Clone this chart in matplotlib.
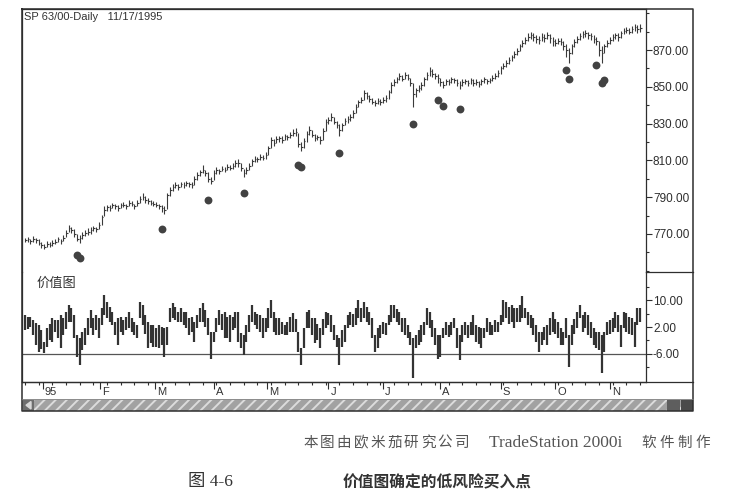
import matplotlib
matplotlib.use("Agg")
import matplotlib.pyplot as plt
from matplotlib.patches import Rectangle, Polygon
from matplotlib.ticker import MultipleLocator, FormatStrFormatter
import matplotlib.transforms as mtransforms


# SP daily bars, 12/1994 .. 11/17/1995
price_high = [
    768.0, 768.5, 767.5, 769.0, 768.0, 767.0, 765.5, 764.5, 766.0, 765.5,
    766.5, 767.5, 768.5, 767.5, 769.5, 772.0, 775.0, 774.0, 772.5, 770.0,
    769.5, 771.0, 772.0, 773.0, 773.5, 774.5, 774.0, 776.5, 780.5, 785.0,
    786.0, 785.5, 787.0, 786.5, 786.0, 787.0, 787.5, 786.5, 788.5, 788.0,
    786.5, 788.5, 790.5, 792.0, 790.5, 789.5, 788.5, 788.0, 787.5, 786.5,
    785.5, 785.0, 792.0, 795.5, 797.0, 798.0, 797.0, 798.5, 798.0, 799.0,
    798.5, 798.0, 801.5, 803.5, 805.0, 807.5, 805.0, 803.5, 801.0, 804.5,
    806.5, 805.5, 807.0, 806.5, 808.0, 807.5, 808.5, 810.0, 810.5, 808.5,
    805.5, 806.5, 808.5, 811.0, 812.5, 812.0, 813.5, 813.0, 814.5, 818.0,
    822.5, 821.5, 823.0, 823.5, 823.0, 824.5, 824.0, 825.5, 827.0, 827.5,
    825.0, 820.0, 822.0, 826.0, 828.5, 826.5, 824.5, 824.0, 823.0, 827.5,
    832.5, 833.5, 835.5, 833.5, 831.5, 829.5, 830.5, 833.0, 834.0, 835.0,
    837.5, 840.5, 843.0, 844.5, 848.0, 847.0, 845.5, 844.0, 843.0, 844.0,
    843.5, 844.5, 845.5, 848.5, 852.5, 854.0, 855.5, 857.5, 856.5, 858.0,
    857.0, 855.0, 852.0, 849.5, 851.0, 852.5, 855.5, 858.0, 860.5, 859.5,
    857.5, 857.0, 855.0, 853.0, 854.5, 854.0, 855.5, 855.0, 854.0, 853.0,
    854.0, 854.5, 853.5, 855.0, 854.0, 854.0, 853.0, 854.5, 855.5, 854.5,
    855.0, 856.5, 857.5, 859.0, 861.5, 863.0, 864.5, 866.0, 867.5, 869.5,
    871.0, 873.5, 875.5, 877.0, 879.0, 880.0, 879.0, 878.0, 877.5, 879.0,
    878.5, 880.0, 878.5, 877.0, 876.0, 876.5, 876.5, 875.0, 873.0, 871.0,
    873.5, 876.0, 877.5, 879.0, 880.5, 881.0, 880.0, 879.0, 878.0, 877.0,
    875.0, 872.0, 873.5, 875.5, 877.0, 878.5, 879.5, 879.0, 880.5, 882.0,
    882.5, 882.0, 883.0, 884.0, 883.5, 884.0,
]

price_low = [
    765.5, 765.5, 764.5, 765.5, 765.0, 764.0, 762.5, 762.0, 763.0, 763.0,
    763.5, 764.5, 765.5, 764.5, 766.0, 768.5, 771.0, 770.5, 768.5, 766.0,
    765.0, 767.5, 769.0, 769.5, 770.0, 771.5, 771.0, 772.5, 775.0, 779.5,
    782.5, 782.5, 784.0, 783.5, 782.5, 784.0, 784.5, 783.5, 785.0, 785.0,
    783.5, 785.0, 787.0, 788.5, 787.0, 786.5, 785.5, 785.0, 784.5, 783.5,
    782.0, 781.0, 783.5, 790.5, 793.5, 795.0, 794.0, 795.5, 795.0, 796.0,
    795.5, 795.0, 796.5, 799.5, 801.5, 803.0, 801.5, 798.5, 797.0, 799.5,
    802.5, 802.5, 804.0, 803.5, 805.0, 804.5, 805.5, 806.5, 806.5, 804.0,
    801.0, 802.5, 805.0, 807.0, 809.0, 809.0, 810.0, 810.0, 811.0, 813.0,
    816.5, 818.0, 819.5, 820.0, 819.5, 821.0, 821.0, 822.0, 823.0, 823.5,
    817.5, 815.0, 816.5, 820.0, 824.0, 822.5, 820.5, 821.0, 819.0, 821.0,
    826.0, 830.0, 831.5, 829.5, 827.5, 823.5, 826.0, 829.0, 830.5, 831.5,
    833.0, 836.0, 839.0, 841.0, 843.0, 843.5, 842.0, 840.5, 839.5, 840.5,
    840.0, 841.0, 842.0, 843.5, 846.5, 850.5, 852.0, 853.5, 853.0, 854.5,
    853.5, 850.5, 839.0, 844.5, 847.0, 848.5, 850.5, 853.5, 856.0, 855.5,
    854.0, 852.0, 850.5, 849.5, 851.0, 851.0, 852.0, 852.0, 850.5, 849.0,
    850.5, 851.5, 850.5, 851.5, 850.5, 851.0, 850.0, 851.0, 852.0, 851.5,
    852.0, 853.0, 854.0, 855.5, 857.0, 859.5, 861.0, 862.5, 864.0, 865.5,
    867.5, 869.5, 871.5, 873.5, 875.0, 876.0, 875.0, 874.0, 873.0, 875.0,
    874.5, 876.0, 874.0, 872.0, 872.0, 873.0, 872.5, 870.0, 866.0, 863.0,
    868.0, 871.5, 874.0, 875.5, 876.5, 877.0, 876.0, 875.5, 874.0, 872.5,
    867.0, 863.0, 868.5, 871.5, 873.5, 875.0, 876.0, 875.0, 876.5, 878.5,
    879.0, 878.5, 879.5, 880.5, 879.5, 880.0,
]

price_close = [
    766.5, 767.0, 766.0, 767.5, 766.5, 765.0, 764.0, 763.0, 764.5, 764.0,
    765.0, 765.5, 767.0, 766.0, 768.0, 770.5, 773.0, 772.0, 770.0, 767.5,
    768.0, 769.5, 770.5, 771.0, 772.0, 773.0, 772.5, 775.0, 779.0, 783.0,
    784.5, 784.0, 785.5, 785.0, 784.0, 785.5, 786.0, 785.0, 787.0, 786.5,
    785.0, 787.0, 789.0, 790.0, 788.5, 788.0, 787.0, 786.5, 786.0, 785.0,
    784.0, 783.0, 791.0, 794.0, 795.5, 796.5, 795.5, 797.0, 796.5, 797.5,
    797.0, 796.5, 800.0, 802.0, 803.5, 805.0, 803.0, 800.0, 799.0, 803.0,
    805.0, 804.0, 805.5, 805.0, 806.5, 806.0, 807.0, 808.5, 808.5, 806.0,
    803.0, 805.0, 807.0, 809.5, 811.0, 810.5, 812.0, 811.5, 813.0, 816.5,
    821.0, 819.5, 821.5, 822.0, 821.0, 823.0, 822.5, 824.0, 825.0, 825.5,
    819.0, 817.0, 820.5, 824.5, 826.5, 824.0, 822.0, 822.5, 821.0, 826.0,
    831.0, 832.0, 833.5, 831.0, 829.0, 826.5, 829.0, 831.5, 832.5, 833.5,
    836.0, 839.0, 841.5, 843.0, 846.5, 845.0, 843.5, 842.0, 841.0, 842.5,
    841.5, 843.0, 844.0, 847.0, 851.0, 852.5, 854.0, 856.0, 854.5, 856.5,
    855.0, 852.0, 846.0, 848.0, 849.5, 851.0, 854.0, 856.5, 858.5, 857.0,
    856.0, 855.0, 852.5, 851.0, 853.0, 852.5, 854.0, 853.5, 852.0, 851.0,
    852.5, 853.0, 852.0, 853.5, 852.0, 852.5, 851.5, 853.0, 854.0, 853.0,
    853.5, 855.0, 856.0, 857.5, 860.0, 861.5, 863.0, 864.5, 866.0, 868.0,
    869.5, 872.0, 874.0, 875.5, 877.0, 878.0, 877.0, 876.0, 875.5, 877.0,
    876.5, 878.0, 876.5, 875.0, 874.0, 875.0, 874.5, 872.0, 870.0, 868.5,
    872.0, 874.5, 876.0, 877.5, 878.5, 879.0, 878.0, 877.5, 876.0, 875.0,
    870.0, 868.5, 872.0, 874.0, 875.5, 877.0, 878.0, 877.0, 879.0, 880.5,
    881.0, 880.0, 881.5, 882.5, 881.5, 882.0,
]

# value chart (价值图) bar ranges
value_high = [
    5.6, 5.0, 5.1, 4.0, 3.1, 2.6, 1.0, -2.4, 1.6, 3.0,
    4.6, 4.0, 4.1, 5.6, 4.6, 6.5, 8.6, 7.6, 5.6, -0.4,
    -1.4, 0.5, 1.6, 4.6, 7.1, 4.6, 5.5, 4.6, 7.6, 11.6,
    9.6, 8.0, 6.6, 3.6, 4.6, 5.1, 4.1, 5.0, 6.6, 4.6,
    3.5, 2.6, 9.6, 8.6, 5.5, 3.6, 2.6, 2.6, 1.6, 2.6,
    2.0, 1.6, 2.1, 7.6, 9.1, 8.0, 6.6, 7.6, 6.6, 6.6,
    4.6, 5.0, 3.6, 5.6, 7.6, 9.1, 7.0, 4.6, 0.6, 0.6,
    4.6, 7.1, 6.0, 6.6, 5.1, 5.6, 5.0, 6.6, 6.6, 0.1,
    -0.4, 2.6, 5.6, 8.6, 6.6, 6.0, 5.6, 4.6, 4.6, 7.6,
    10.1, 6.6, 4.6, 4.6, 3.5, 2.6, 3.6, 5.1, 6.1, 4.5,
    0.6, -4.4, 1.6, 6.6, 7.1, 4.6, 4.6, 3.0, 1.6, 4.5,
    6.6, 6.1, 5.6, 2.6, -0.4, -1.4, 1.0, 2.6, 5.6, 6.6,
    6.0, 7.6, 10.1, 7.6, 9.6, 8.0, 6.6, 4.6, -0.4, 1.6,
    2.6, 3.5, 3.1, 5.6, 8.6, 8.6, 7.5, 6.6, 4.6, 4.6,
    2.6, 0.6, -1.4, -0.4, 1.0, 2.6, 3.6, 7.6, 6.6, 4.0,
    1.6, -0.4, -0.4, 1.6, 3.6, 2.5, 3.6, 4.6, 1.6, -0.4,
    2.6, 3.5, 2.6, 3.6, 5.6, 2.6, 2.0, 1.6, 1.6, 4.6,
    3.6, 2.6, 4.0, 3.6, 5.6, 10.1, 9.6, 8.0, 8.6, 7.6,
    7.6, 8.6, 11.1, 7.6, 6.5, 5.6, 4.6, 2.6, 0.6, 0.6,
    2.0, 2.6, 4.6, 6.6, 4.5, 3.6, 1.6, 0.6, 4.6, -0.4,
    2.6, 4.5, 6.6, 8.6, 5.6, 6.6, 5.6, 3.6, 1.6, 0.6,
    0.5, -0.4, 0.6, 3.6, 4.0, 4.6, 6.6, 5.6, 2.6, 6.6,
    6.1, 5.0, 4.6, 3.6, 7.6, 7.6,
]

value_low = [
    1.1, 1.5, 2.1, -0.5, -3.4, -5.4, -4.5, -5.9, -3.9, -2.0,
    -2.4, 0.5, -1.4, -4.4, -0.4, 1.5, 3.6, 3.6, -1.4, -6.9,
    -9.4, -5.0, -3.4, -0.4, 1.6, -0.4, 1.0, -1.4, 2.6, 5.6,
    4.6, 3.5, 2.6, -0.4, -3.4, 0.6, -0.4, 1.0, 1.6, 0.6,
    -0.5, -1.4, 4.6, 2.6, 0.0, -4.4, -2.9, -3.9, -3.9, -4.4,
    -3.5, -6.9, -3.4, 3.6, 4.6, 4.0, 3.6, 3.6, 2.6, 1.6,
    -0.4, 0.5, -2.4, 1.6, 3.6, 3.6, 2.0, -0.4, -7.4, -2.4,
    0.6, 2.6, 1.0, -1.4, -1.4, -2.4, 1.0, 1.6, -2.4, -4.4,
    -6.4, -2.4, 0.6, 3.6, 2.6, 1.5, 0.6, -1.4, 0.6, 1.6,
    4.6, 0.6, -0.4, -0.4, 0.0, -0.4, -0.4, 0.6, 0.6, 0.5,
    -5.4, -9.4, -4.4, 1.6, 1.6, -0.4, -2.9, -2.0, -4.4, -0.5,
    1.6, 2.6, 0.6, -1.9, -3.9, -9.4, -4.0, -2.4, 1.6, 2.6,
    2.0, 2.6, 4.6, 3.6, 4.6, 3.5, 2.6, -1.4, -5.4, -4.4,
    -1.4, 0.0, -0.4, 2.6, 3.6, 4.6, 3.5, 2.6, 0.6, -0.4,
    -1.4, -3.4, -13.3, -4.4, -3.5, -2.4, -0.4, 2.6, 1.6, -1.0,
    -3.4, -7.4, -6.9, -1.4, -0.4, -1.0, -0.4, 1.6, -4.4, -7.9,
    -2.4, -0.5, -1.4, -0.4, -0.4, -2.4, -3.0, -4.4, -1.4, 0.6,
    -0.4, -0.4, 0.5, 0.6, 2.6, 3.6, 4.6, 3.0, 3.6, 1.6,
    3.6, 3.6, 4.6, 4.6, 2.5, 1.6, -0.4, -2.4, -5.4, -3.4,
    -2.0, -3.4, -0.4, 0.6, 0.0, -1.4, -3.4, -3.4, -1.4, -9.8,
    -3.4, 0.0, 1.6, 4.6, 0.6, 1.6, -0.4, -1.4, -3.4, -4.4,
    -5.0, -11.8, -5.4, -0.4, 0.0, 0.6, 1.6, 0.6, -3.9, 1.6,
    0.6, 0.0, -0.4, -3.9, 2.6, 3.6,
]

# low-risk buy points (dots under the price bars)
dot_bars = [19, 20, 50, 67, 80, 100, 101, 115, 142, 151, 153, 159, 198, 199, 209, 211, 212]
dot_prices = [758.6, 757.0, 772.7, 788.5, 792.3, 807.5, 806.4, 814.0, 829.8,
              842.8, 839.6, 838.0, 859.0, 854.2, 861.8, 852.0, 853.7]

month_labels = ["95", "F", "M", "A", "M", "J", "J", "A", "S", "O", "N"]
month_ticks = [6.5, 27.5, 47.5, 69, 88.5, 111, 131, 152, 174, 194, 214]

price_ticks = [770, 790, 810, 830, 850, 870]
value_ticks = [-6, 2, 10]
value_minor_ticks = [-10, -2, 6, 14]
value_line = -6

CHART_TITLE = "SP 63/00-Daily   11/17/1995"
PANEL_LABEL = "价值图"
NOTE_HEAD = "本图由欧米茄研究公司"
NOTE_MID = "TradeStation 2000i"
NOTE_TAIL = "软件制作"
FIG_NUMBER = "图 4-6"
FIG_TITLE = "价值图确定的低风险买入点"

W, H = 741, 492
INK = "#2e2e2e"
SERIF = ["Liberation Serif", "Noto Sans CJK SC"]
CJK = ["Noto Sans CJK SC"]


def px_rect(x0, y0, x1, y1):
    """
    Axes rectangle from pixel corners (top-left origin).
    """
    return [x0 / W, 1 - y1 / H, (x1 - x0) / W, (y1 - y0) / H]


def spaced_text(fig, x_left, y, text, pitch, **kw):
    """
    Book-style CJK text with wide letter spacing, one glyph per cell.
    """
    for k, ch in enumerate(text):
        fig.text((x_left + pitch * (k + 0.5)) / W, 1 - y / H, ch,
                 ha="center", va="center", **kw)


plt.rcParams["font.family"] = ["Liberation Sans", "Noto Sans CJK SC"]
plt.rcParams["axes.unicode_minus"] = False
plt.rcParams["hatch.linewidth"] = 1.4

fig = plt.figure(figsize=(W / 100, H / 100), dpi=100)
fig.patch.set_facecolor("white")

# window frame, scrollbar and separators drawn in pixel space
frame = fig.add_axes([0, 0, 1, 1])
frame.set_xlim(0, W)
frame.set_ylim(H, 0)
frame.axis("off")
frame.plot([22, 693, 693, 22, 22], [9, 9, 411, 411, 9], color=INK, lw=1.1)
frame.plot([646, 693], [272, 272], color=INK, lw=0.9)
frame.plot([22, 693], [382, 382], color=INK, lw=0.9)
frame.plot([22, 693], [399, 399], color="#777777", lw=0.6)
frame.add_patch(Rectangle((22, 399.5), 671, 11, facecolor="#a2a2a2",
                          edgecolor="#dcdcdc", hatch="///", lw=0))
frame.add_patch(Rectangle((23, 400), 11, 10.5, facecolor="#6e6e6e", lw=0))
frame.add_patch(Polygon([[31, 401.5], [31, 409], [26, 405.2]], color="#d8d8d8"))
frame.add_patch(Rectangle((667, 400), 12.5, 10.5, facecolor="#5e5e5e", lw=0))
frame.add_patch(Rectangle((680.5, 400), 12, 10.5, facecolor="#4a4a4a", lw=0))

xmin, xmax = -1.1, 227.2
idx = list(range(len(price_close)))

# price panel
ax = fig.add_axes(px_rect(22, 9, 646, 272))
ax.set_facecolor("none")
ax.vlines(idx, price_low, price_high, color="#3a3a3a", lw=0.8)
ax.hlines(price_close, [i for i in idx], [i + 0.6 for i in idx], color="#3a3a3a", lw=0.8)
ax.scatter(dot_bars, dot_prices, s=32, color="#424242", zorder=3, linewidths=0)
ax.set_xlim(xmin, xmax)
ax.set_ylim(749.3, 892.3)
ax.set_xticks([])
ax.yaxis.tick_right()
ax.set_yticks(price_ticks)
ax.yaxis.set_major_formatter(FormatStrFormatter("%.2f"))
ax.yaxis.set_minor_locator(MultipleLocator(10))
ax.tick_params(axis="y", which="major", length=4, width=0.8, colors=INK,
               labelsize=8.5, pad=1)
ax.tick_params(axis="y", which="minor", length=2, width=0.8, colors=INK)
ax.spines["bottom"].set_visible(False)
for side in ["left", "top", "right"]:
    ax.spines[side].set_color(INK)
    ax.spines[side].set_linewidth(0.9)
ax.text(0.003, 0.988, CHART_TITLE, transform=ax.transAxes, ha="left", va="top",
        fontsize=8, color="#333333")

# value chart panel
axv = fig.add_axes(px_rect(22, 272, 646, 382))
axv.set_facecolor("none")
axv.axhline(value_line, color="#555555", lw=0.9)
axv.vlines(idx, value_low, value_high, color="#333333", lw=1.6)
axv.set_xlim(xmin, xmax)
axv.set_ylim(-14.4, 18.4)
axv.set_xticks([])
axv.yaxis.tick_right()
axv.set_yticks(value_ticks)
axv.set_yticks(value_minor_ticks, minor=True)
axv.yaxis.set_major_formatter(FormatStrFormatter("%.2f"))
axv.tick_params(axis="y", which="major", length=4, width=0.8, colors=INK,
                labelsize=8.5, pad=1)
axv.tick_params(axis="y", which="minor", length=2, width=0.8, colors=INK)
axv.spines["top"].set_visible(False)
for side in ["left", "bottom", "right"]:
    axv.spines[side].set_color(INK)
    axv.spines[side].set_linewidth(0.9)
axv.text(0.024, 0.9, PANEL_LABEL, transform=axv.transAxes, ha="left",
         va="center", fontsize=9.5, color="#333333", family=CJK)

# month strip
axd = fig.add_axes(px_rect(22, 382, 646, 398))
axd.set_facecolor("none")
axd.set_xlim(xmin, xmax)
axd.set_ylim(0, 1)
axd.set_yticks([])
axd.set_xticks(month_ticks)
axd.set_xticklabels([])
axd.xaxis.set_minor_locator(MultipleLocator(5))
axd.tick_params(axis="x", which="major", direction="in", top=True, bottom=False,
                length=5, width=0.8, colors=INK, labelbottom=False)
axd.tick_params(axis="x", which="minor", direction="in", top=True, bottom=False,
                length=2, width=0.8, colors=INK)
for side in axd.spines:
    axd.spines[side].set_visible(False)
blend = mtransforms.blended_transform_factory(axd.transData, axd.transAxes)
for tick, label in zip(month_ticks, month_labels):
    axd.text(tick + 0.7, 0.38, label, transform=blend, ha="left", va="center",
             fontsize=8, color="#333333")

# book caption, spaced like the printed page
note_kw = dict(fontsize=10.5, color="#555555", family=SERIF)
spaced_text(fig, 302, 443, NOTE_HEAD, 16.8, **note_kw)
fig.text(489 / W, 1 - 443 / H, NOTE_MID, ha="left", va="center",
         fontsize=12.5, color="#555555", family=SERIF)
spaced_text(fig, 640, 443, NOTE_TAIL, 17.8, **note_kw)

fig.text(188 / W, 1 - 482 / H, FIG_NUMBER, ha="left", va="center",
         fontsize=12.5, color="#333333", family=SERIF)
fig.text(343 / W, 1 - 482 / H, FIG_TITLE, ha="left", va="center",
         fontsize=11.3, color="#333333", family=CJK, fontweight="bold")

fig.savefig("out.png", dpi=100, facecolor="white")
